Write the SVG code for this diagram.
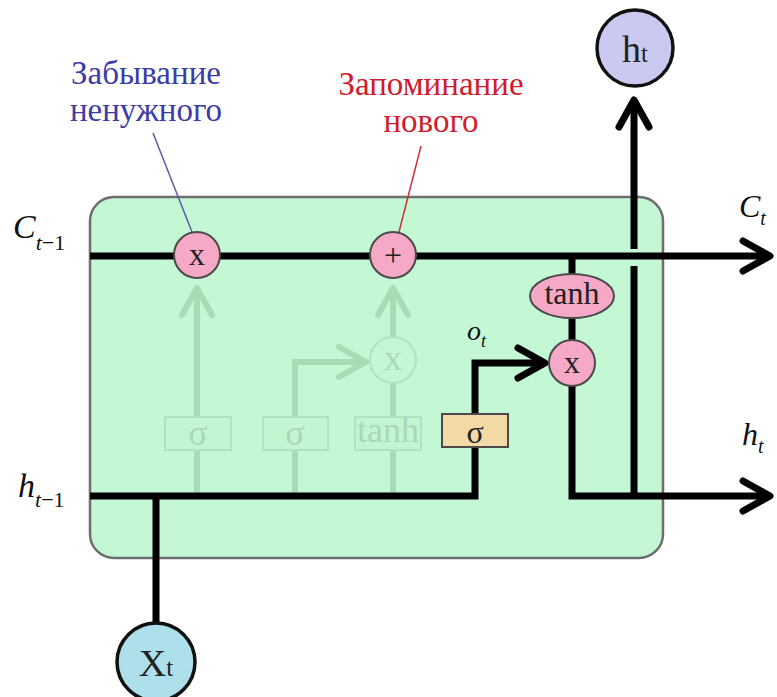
<svg xmlns="http://www.w3.org/2000/svg" width="777" height="697" viewBox="0 0 777 697">
<style>
.ln{fill:none;stroke:#000;stroke-width:7;stroke-linejoin:miter}
.fd{fill:none;stroke:#a6dcb6;stroke-width:6}
.op{fill:#f5a9c6;stroke:#4a4a4a;stroke-width:2}
.opt{font-family:"Liberation Serif",serif;font-size:32px;fill:#222;text-anchor:middle}
.fbox{fill:#c2f5d1;stroke:#b0e4c0;stroke-width:2}
.ftx{font-family:"Liberation Serif",serif;font-size:36px;fill:#a9d9b9;text-anchor:middle}
.lbl{font-family:"Liberation Serif",serif;font-style:italic;fill:#111}
.ann{font-family:"Liberation Serif",serif;font-size:33px;text-anchor:middle}
</style>
<defs>
<marker id="chev" viewBox="0 0 34 34" refX="30" refY="17" markerWidth="34" markerHeight="34" markerUnits="userSpaceOnUse" orient="auto" overflow="visible">
<path d="M3,2 L30,17 L3,32" fill="none" stroke="#000" stroke-width="7" stroke-linecap="round" stroke-linejoin="round"/>
</marker>
<marker id="chevf" viewBox="0 0 34 34" refX="30" refY="17" markerWidth="34" markerHeight="34" markerUnits="userSpaceOnUse" orient="auto" overflow="visible">
<path d="M3,2 L30,17 L3,32" fill="none" stroke="#a6dcb6" stroke-width="6" stroke-linecap="round" stroke-linejoin="round"/>
</marker>
</defs>
<rect width="777" height="697" fill="#fff"/>
<g id="cell">
<rect x="90" y="197" width="573" height="361" rx="24" fill="#c4f8d4" stroke="#6e6e6e" stroke-width="2.5"/>
</g>
<g id="faded">
<line class="fd" x1="197" y1="496" x2="197" y2="288" marker-end="url(#chevf)"/>
<polyline class="fd" points="295,496 295,362 366,362" marker-end="url(#chevf)"/>
<line class="fd" x1="393" y1="496" x2="393" y2="383"/>
<line class="fd" x1="393" y1="337" x2="393" y2="288" marker-end="url(#chevf)"/>
<circle cx="393" cy="360" r="23" fill="#c4f8d4" stroke="#b0e4c0" stroke-width="2"/>
<text class="ftx" x="393" y="370" font-size="28">x</text>
<rect class="fbox" x="165" y="417" width="66" height="33"/>
<text class="ftx" x="198" y="445">σ</text>
<rect class="fbox" x="263" y="417" width="65" height="33"/>
<text class="ftx" x="295" y="445">σ</text>
<rect class="fbox" x="355" y="417" width="66" height="33"/>
<text class="ftx" x="388" y="442" font-size="23">tanh</text>
</g>
<g id="connectors">
<line class="ln" x1="90" y1="256" x2="770" y2="256" marker-end="url(#chev)"/>
<polyline class="ln" points="90,496 475,496 475,363 545,363" marker-end="url(#chev)"/>
<polyline class="ln" points="572,386 572,496 770,496" marker-end="url(#chev)"/>
<line class="ln" x1="634" y1="496" x2="634" y2="266"/>
<line class="ln" x1="634" y1="249" x2="634" y2="100" marker-end="url(#chev)"/>
<line class="ln" x1="572" y1="256" x2="572" y2="340"/>
<line class="ln" x1="156" y1="496" x2="156" y2="622"/>
<line x1="153" y1="133" x2="192" y2="232" stroke="#5a5aa8" stroke-width="1.5"/>
<line x1="421" y1="146" x2="399" y2="232" stroke="#d03040" stroke-width="1.5"/>
</g>
<g id="forget">
<circle class="op" cx="197" cy="255" r="23"/>
<text class="opt" x="197" y="265">x</text>
</g>
<g id="add">
<circle class="op" cx="393" cy="255" r="23"/>
<text class="opt" x="393" y="266">+</text>
</g>
<g id="tanh">
<ellipse class="op" cx="572" cy="296" rx="42" ry="22"/>
<text class="opt" x="572" y="304" font-size="25">tanh</text>
</g>
<g id="mult">
<circle class="op" cx="572" cy="363" r="23"/>
<text class="opt" x="572" y="373">x</text>
</g>
<g id="sigma">
<rect x="442" y="414" width="66" height="33" fill="#f2d9a6" stroke="#4a4a4a" stroke-width="2"/>
<text class="opt" x="475" y="443" font-size="38">σ</text>
</g>
<g id="ht_out">
<circle cx="635" cy="48" r="38" fill="#cacaf0" stroke="#111" stroke-width="3.5"/>
<text font-family="'Liberation Serif',serif" fill="#222" x="635" y="62" text-anchor="middle"><tspan font-size="38">h</tspan><tspan font-size="25">t</tspan></text>
</g>
<g id="xt_in">
<circle cx="156" cy="662" r="39" fill="#aee0ec" stroke="#111" stroke-width="3.5"/>
<text font-family="'Liberation Serif',serif" fill="#222" x="156" y="676" text-anchor="middle"><tspan font-size="38">X</tspan><tspan font-size="25">t</tspan></text>
</g>
<g id="labels">
<text class="lbl" x="13" y="238" font-size="34">C<tspan font-size="22" dy="12" font-style="italic">t</tspan><tspan font-size="22" font-style="normal">−1</tspan></text>
<text class="lbl" x="18" y="497" font-size="34">h<tspan font-size="22" dy="10">t</tspan><tspan font-size="22" font-style="normal">−1</tspan></text>
<text class="lbl" x="739" y="217" font-size="32">C<tspan font-size="20" dy="8">t</tspan></text>
<text class="lbl" x="742" y="445" font-size="32">h<tspan font-size="20" dy="8">t</tspan></text>
<text class="lbl" x="467" y="340" font-size="28">o<tspan font-size="18" dy="7">t</tspan></text>
<text class="ann" x="146" y="84" fill="#3c3ca8">Забывание</text>
<text class="ann" x="146" y="121" fill="#3c3ca8">ненужного</text>
<text class="ann" x="431" y="95" fill="#d01c2c">Запоминание</text>
<text class="ann" x="431" y="132" fill="#d01c2c">нового</text>
</g>
</svg>
